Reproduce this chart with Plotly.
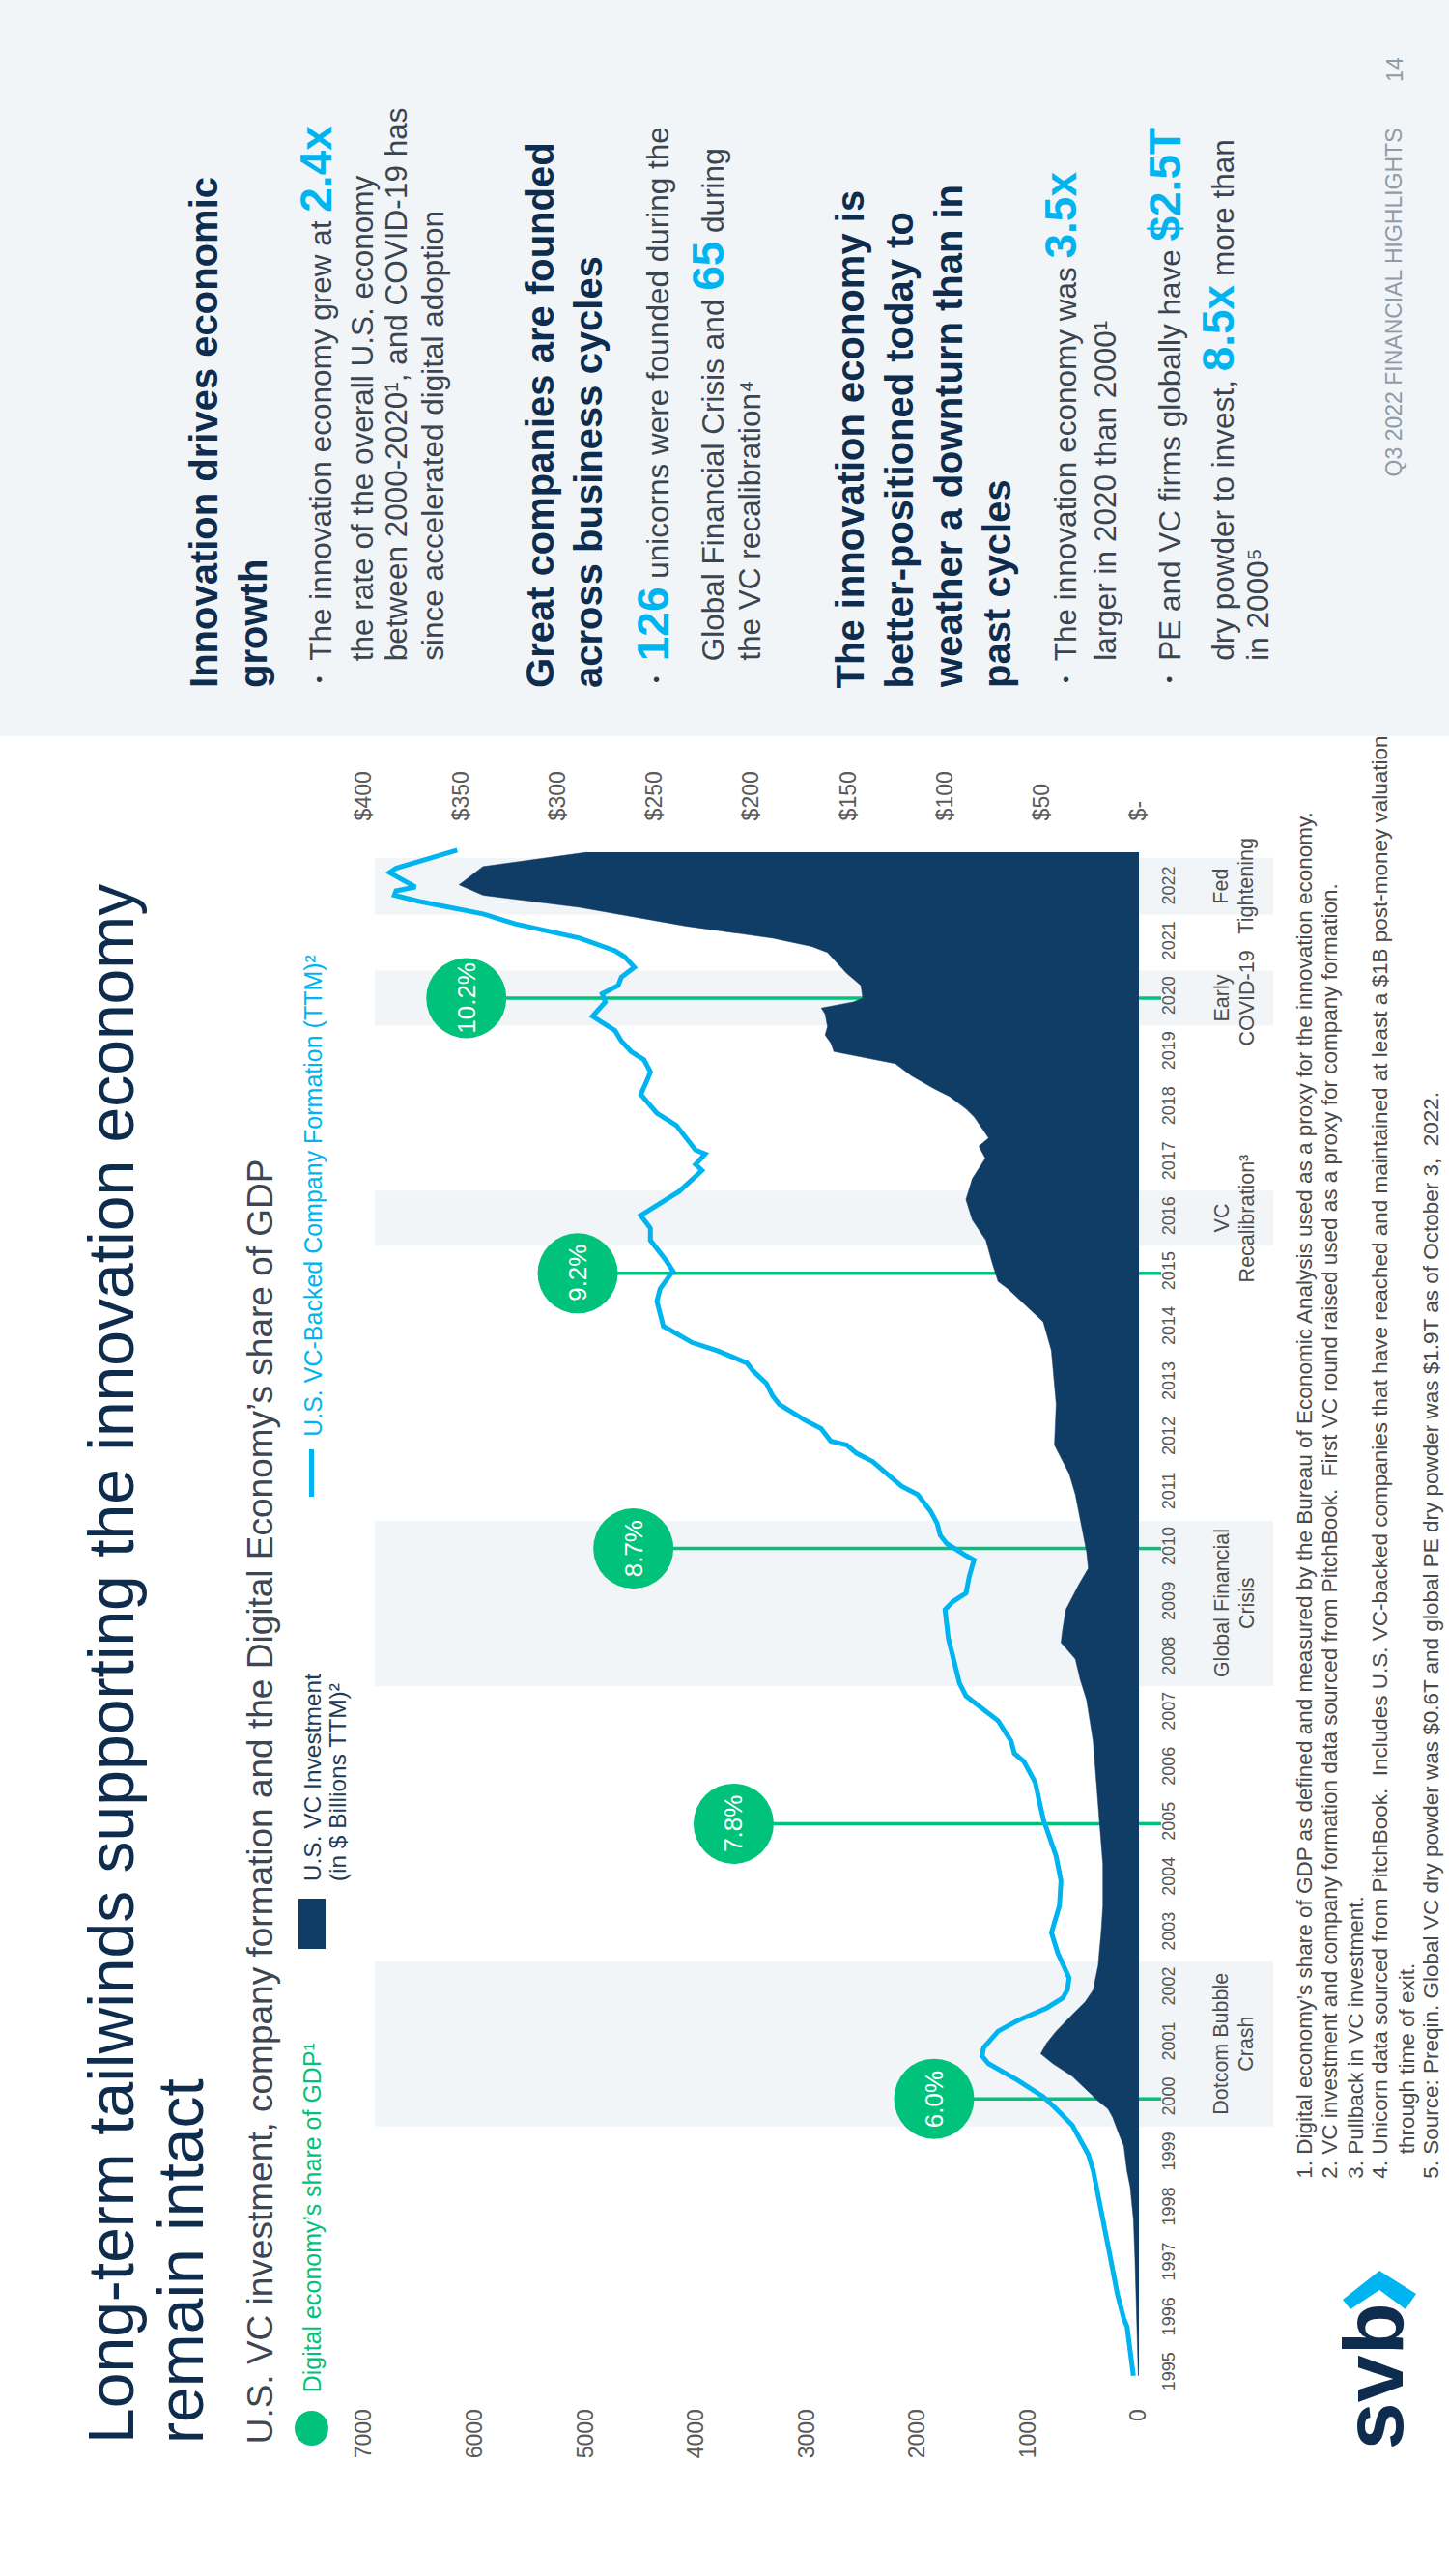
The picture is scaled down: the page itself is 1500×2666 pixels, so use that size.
import plotly.graph_objects as go

FONT = "Liberation Sans, Arial, Helvetica, sans-serif"
NAVY = "#0E2D4E"
AREA = "#103D66"
BLUE = "#00B4F0"
GREEN = "#00C27A"
BAND = "#F2F5F8"
TICK = "#5A5A5A"
BODY = "#3B4550"
SUB = "#3D4651"

# ---------------- data ----------------
vc_time = [1994.97, 1995.57, 1996.31, 1997.06, 1997.80, 1998.40, 1998.70, 1998.92, 1999.15, 1999.29,
           1999.52, 1999.67, 1999.82, 1999.96, 2000.19, 2000.41, 2000.64, 2000.82, 2001.01, 2001.23,
           2001.53, 2001.76, 2001.98, 2002.13, 2002.43, 2002.72, 2003.02, 2003.51, 2004.26, 2005.01,
           2005.75, 2006.50, 2007.25, 2007.62, 2007.99, 2008.29, 2008.52, 2008.89, 2009.34, 2009.64,
           2009.94, 2010.53, 2010.98, 2011.36, 2011.88, 2012.62, 2013.60, 2014.12, 2014.34, 2014.72,
           2014.85, 2015.22, 2015.60, 2015.97, 2016.34, 2016.72, 2017.09, 2017.31, 2017.46, 2017.84,
           2017.99, 2018.21, 2018.36, 2018.59, 2018.81, 2019.03, 2019.18, 2019.33, 2019.48, 2019.71,
           2019.82, 2019.93, 2020.00, 2020.23, 2020.45, 2020.64, 2020.83, 2020.94, 2021.09, 2021.31,
           2021.50, 2021.65, 2021.76, 2021.87, 2022.06, 2022.39, 2022.65]
vc_investment = [0.3, 0.7, 1.2, 2.0, 2.8, 4.5, 6.2, 7.0, 7.8, 9.5,
                 12.0, 13.6, 16.0, 21.0, 27.8, 34.4, 44.4, 50.7, 47.7, 42.7,
                 34.4, 27.8, 23.6, 22.8, 21.0, 20.3, 19.5, 18.6, 18.6, 20.3,
                 22.0, 23.6, 27.0, 30.3, 32.8, 40.2, 39.4, 37.7, 31.1, 26.1,
                 27.0, 30.3, 32.8, 36.0, 43.6, 42.7, 45.2, 49.4, 56.0, 67.7,
                 72.7, 76.0, 79.0, 86.0, 89.3, 86.0, 79.3, 82.6, 77.6, 85.0,
                 89.3, 97.6, 106.0, 117.5, 125.8, 157.5, 159.0, 162.0, 160.8, 162.0,
                 164.0, 147.5, 142.6, 143.5, 150.9, 155.8, 160.8, 169.0, 189.0, 234.0,
                 263.9, 288.8, 313.7, 338.6, 351.0, 338.6, 285.0]

cf_time = [1994.97, 1995.86, 1996.01, 1996.46, 1996.91, 1997.36, 1997.65, 1997.95, 1998.47, 1998.70,
           1998.99, 1999.29, 1999.52, 1999.82, 2000.04, 2000.34, 2000.64, 2000.78, 2000.93, 2001.23,
           2001.42, 2001.65, 2001.83, 2001.98, 2002.20, 2002.65, 2003.02, 2003.51, 2003.96, 2004.41,
           2004.78, 2005.08, 2005.75, 2006.13, 2006.28, 2006.50, 2006.87, 2007.10, 2007.32, 2007.55,
           2007.99, 2008.37, 2008.89, 2009.04, 2009.19, 2009.49, 2009.79, 2009.87, 2010.09, 2010.24,
           2010.46, 2010.68, 2010.98, 2011.13, 2011.43, 2011.58, 2011.73, 2011.88, 2011.95, 2012.18,
           2012.33, 2012.62, 2012.77, 2013.00, 2013.22, 2013.37, 2013.59, 2013.74, 2014.04, 2014.49,
           2014.72, 2015.04, 2015.22, 2015.60, 2015.82, 2016.05, 2016.49, 2016.87, 2016.98, 2017.17,
           2017.24, 2017.46, 2017.69, 2017.91, 2018.25, 2018.51, 2018.66, 2018.88, 2019.03, 2019.22,
           2019.41, 2019.67, 2019.93, 2020.08, 2020.23, 2020.38, 2020.56, 2020.75, 2020.86, 2021.09,
           2021.35, 2021.53, 2021.76, 2021.87, 2021.95, 2022.02, 2022.28, 2022.36, 2022.69]
company_formation = [50, 107, 137, 195, 238, 282, 311, 340, 384, 413,
                     457, 544, 602, 748, 864, 1097, 1359, 1417, 1403, 1272,
                     1097, 835, 690, 646, 631, 733, 790, 718, 704, 748,
                     806, 864, 937, 1039, 1126, 1155, 1272, 1417, 1562, 1621,
                     1679, 1722, 1752, 1679, 1562, 1533, 1490, 1562, 1737, 1795,
                     1824, 1883, 1999, 2144, 2319, 2406, 2551, 2639, 2784, 2872,
                     3017, 3250, 3308, 3366, 3483, 3541, 3803, 4035, 4297, 4355,
                     4326, 4210, 4268, 4414, 4414, 4501, 4152, 3948, 4006, 3919,
                     4006, 4094, 4181, 4355, 4501, 4443, 4414, 4472, 4588, 4676,
                     4733, 4937, 4821, 4850, 4705, 4676, 4559, 4646, 4733, 5054,
                     5636, 5926, 6508, 6727, 6712, 6537, 6770, 6712, 6159]

milestone_years = [2000, 2005, 2010, 2015, 2020]
digital_share = [6.0, 7.8, 8.7, 9.2, 10.2]
digital_share_labels = ["6.0%", "7.8%", "8.7%", "9.2%", "10.2%"]

event_start = [1999.5, 2007.5, 2015.5, 2019.5, 2021.52]
event_end = [2002.5, 2010.5, 2016.5, 2020.5, 2022.55]
event_line1 = ["Dotcom Bubble", "Global Financial", "VC", "Early", "Fed"]
event_line2 = ["Crash", "Crisis", "Recalibration\u00b3", "COVID-19", "Tightening"]

year_ticks = list(range(1995, 2023))
cf_ticks = [0, 1000, 2000, 3000, 4000, 5000, 6000, 7000]
vc_ticks = [0, 50, 100, 150, 200, 250, 300, 350, 400]
vc_ticktext = ["$-", "$50", "$100", "$150", "$200", "$250", "$300", "$350", "$400"]

# ---------------- geometry ----------------
FW, FH = 1500, 2666
ML, MR, MT, MB = 377, 321, 862, 203
PW = FW - ML - MR
PH = FH - MT - MB
BOT = FH - MB
PX_PER_YEAR = 56.96
t0 = 1995 - (BOT - 2457) / PX_PER_YEAR
t1 = t0 + PH / PX_PER_YEAR
SHARE_RANGE = [11.117, 4.161]


def px_x(px):
    return (px - ML) / PW


def px_y(py):
    return (BOT - py) / PH


def vt(text, base, start, size, color, bold=False, maxsize=None):
    ms = maxsize if maxsize else size
    return dict(text=text, xref="paper", yref="paper",
                x=px_x(base + 0.212 * ms + 2), y=px_y(start + 2),
                xanchor="right", yanchor="bottom", textangle=-90, showarrow=False,
                font=dict(family=FONT, size=size, color=color,
                          weight="bold" if bold else "normal"))


def big(s):
    return "<span style='color:%s;font-size:46px;font-weight:bold'>%s</span>" % (BLUE, s)


fig = go.Figure()

# bubbles (digital economy share)
fig.add_trace(go.Scatter(
    x=digital_share, y=milestone_years, mode="markers", xaxis="x", yaxis="y",
    marker=dict(size=83, color=GREEN, line=dict(width=0)), cliponaxis=False,
    hoverinfo="skip", showlegend=False))

# VC investment area
fig.add_trace(go.Scatter(
    x=vc_investment, y=vc_time, mode="lines", xaxis="x2", yaxis="y",
    fill="tozerox", fillcolor=AREA, line=dict(color=AREA, width=0.5),
    hoverinfo="skip", showlegend=False))

# company formation line
fig.add_trace(go.Scatter(
    x=company_formation, y=cf_time, mode="lines", xaxis="x3", yaxis="y",
    line=dict(color=BLUE, width=5), hoverinfo="skip", showlegend=False))

shapes = []
# right-hand gray panel
shapes.append(dict(type="rect", xref="paper", yref="paper", x0=px_x(0), x1=px_x(FW),
                   y0=px_y(762), y1=px_y(0), fillcolor=BAND, line=dict(width=0), layer="below"))
# event bands
for s, e in zip(event_start, event_end):
    shapes.append(dict(type="rect", xref="paper", yref="y", x0=px_x(388), x1=px_x(1318),
                       y0=s, y1=e, fillcolor=BAND, line=dict(width=0), layer="below"))
# green connector lines
for p, yr in zip(digital_share, milestone_years):
    shapes.append(dict(type="line", xref="x", yref="y", x0=p, x1=SHARE_RANGE[1], y0=yr, y1=yr,
                       line=dict(color=GREEN, width=3.5), layer="below"))
    shapes.append(dict(type="line", xref="paper", yref="y", x0=1.0, x1=px_x(1202), y0=yr, y1=yr,
                       line=dict(color=GREEN, width=3.5), layer="below"))
# legend marks
shapes.append(dict(type="circle", xref="paper", yref="paper", x0=px_x(305), x1=px_x(340),
                   y0=px_y(2531), y1=px_y(2495), fillcolor=GREEN, line=dict(width=0)))
shapes.append(dict(type="rect", xref="paper", yref="paper", x0=px_x(309), x1=px_x(337),
                   y0=px_y(2017), y1=px_y(1965), fillcolor=AREA, line=dict(width=0)))
shapes.append(dict(type="line", xref="paper", yref="paper", x0=px_x(322.5), x1=px_x(322.5),
                   y0=px_y(1549), y1=px_y(1500), line=dict(color=BLUE, width=5)))
# logo chevron
chev = [(1390, 2380), (1428, 2350), (1466, 2374), (1455, 2390), (1428, 2370), (1398, 2390)]
path = "M " + " L ".join("%.5f,%.5f" % (px_x(a), px_y(b)) for a, b in chev) + " Z"
shapes.append(dict(type="path", xref="paper", yref="paper", path=path, fillcolor=BLUE,
                   line=dict(width=0)))

ann = []
# title, subtitle, legend
ann.append(vt("Long-term tailwinds supporting the innovation economy", 138, 2529, 66, NAVY))
ann.append(vt("remain intact", 210, 2529, 66, NAVY))
ann.append(vt("U.S. VC investment, company formation and the Digital Economy\u2019s share of GDP", 282, 2529, 37, SUB))
ann.append(vt("Digital economy\u2019s share of GDP\u00b9", 332, 2476, 25, GREEN))
ann.append(vt("U.S. VC Investment", 332, 1947, 24.5, "#1F3B5A"))
ann.append(vt("(in $ Billions TTM)\u00b2", 358, 1947, 24.5, "#1F3B5A"))
ann.append(vt("U.S. VC-Backed Company Formation (TTM)\u00b2", 332, 1487, 25, BLUE))

# bubble labels
for p, yr, lab in zip(digital_share, milestone_years, digital_share_labels):
    ann.append(dict(text=lab, xref="x", yref="y", x=p, y=yr, xanchor="center", yanchor="middle",
                    textangle=-90, showarrow=False, font=dict(family=FONT, size=26, color="white")))

# event labels
for s, e, l1, l2 in zip(event_start, event_end, event_line1, event_line2):
    yc = (s + e) / 2
    for txt, base in ((l1, 1272), (l2, 1298)):
        ann.append(dict(text=txt, xref="paper", yref="y", x=px_x(base + 0.212 * 21.5 + 2), y=yc,
                        xanchor="right", yanchor="middle", textangle=-90, showarrow=False,
                        font=dict(family=FONT, size=21.5, color="#4D4D4D")))

# footnotes
FN = "#4A4A4A"
fns = [
    ("1. Digital economy\u2019s share of GDP as defined and measured by the Bureau of Economic Analysis used as a proxy for the innovation economy.", 1358, 2255),
    ("2. VC investment and company formation data sourced from PitchBook.\u00a0 First VC round raised used as a proxy for company formation.", 1384, 2255),
    ("3. Pullback in VC investment.", 1411, 2255),
    ("4. Unicorn data sourced from PitchBook.\u00a0 Includes U.S. VC-backed companies that have reached and maintained at least a $1B post-money valuation", 1436, 2255),
    ("through time of exit.", 1464, 2229),
    ("5. Source: Preqin. Global VC dry powder was $0.6T and global PE dry powder was $1.9T as of October 3,\u00a0 2022.", 1489, 2255),
]
for txt, base, start in fns:
    ann.append(vt(txt, base, start, 22.5, FN))

# logo text
ann.append(vt("svb", 1452, 2535, 88, NAVY, bold=True))

# right panel
ann.append(vt("Innovation drives economic", 224, 712, 40, NAVY, bold=True))
ann.append(vt("growth", 275, 712, 40, NAVY, bold=True))
ann.append(vt("The innovation economy grew at " + big("2.4x"), 343, 684, 31.5, BODY, maxsize=46))
ann.append(vt("the rate of the overall U.S. economy", 387, 684, 31.5, BODY))
ann.append(vt("between 2000-2020\u00b9, and COVID-19 has", 422, 684, 31.5, BODY))
ann.append(vt("since accelerated digital adoption", 459, 684, 31.5, BODY))

ann.append(vt("Great companies are founded", 572, 712, 40, NAVY, bold=True))
ann.append(vt("across business cycles", 622, 712, 40, NAVY, bold=True))
ann.append(vt(big("126") + " unicorns were founded during the", 693, 684, 31.5, BODY, maxsize=46))
ann.append(vt("Global Financial Crisis and " + big("65") + " during", 750, 684, 31.5, BODY, maxsize=46))
ann.append(vt("the VC recalibration\u2074", 787, 684, 31.5, BODY))

ann.append(vt("The innovation economy is", 894, 712, 40, NAVY, bold=True))
ann.append(vt("better-positioned today to", 944.5, 712, 40, NAVY, bold=True))
ann.append(vt("weather a downturn than in", 995, 712, 40, NAVY, bold=True))
ann.append(vt("past cycles", 1045.5, 712, 40, NAVY, bold=True))
ann.append(vt("The innovation economy was " + big("3.5x"), 1115, 684, 31.5, BODY, maxsize=46))
ann.append(vt("larger in 2020 than 2000\u00b9", 1155, 684, 31.5, BODY))
ann.append(vt("PE and VC firms globally have " + big("$2.5T"), 1222, 684, 31.5, BODY, maxsize=46))
ann.append(vt("dry powder to invest, " + big("8.5x") + " more than", 1277, 684, 31.5, BODY, maxsize=46))
ann.append(vt("in 2000\u2075", 1313, 684, 31.5, BODY))

for bx in (330, 679, 1103, 1210):
    ann.append(dict(text="\u2022", xref="paper", yref="paper", x=px_x(bx), y=px_y(703),
                    xanchor="center", yanchor="middle", showarrow=False,
                    font=dict(family=FONT, size=20, color="#2E3A46")))

ann.append(vt("Q3 2022 FINANCIAL HIGHLIGHTS", 1452, 493, 23, "#8E9BA8"))
ann.append(vt("14", 1452, 85, 23, "#8E9BA8"))

fig.update_layout(
    width=FW, height=FH, autosize=False,
    margin=dict(l=ML, r=MR, t=MT, b=MB, pad=0),
    paper_bgcolor="white", plot_bgcolor="rgba(0,0,0,0)",
    showlegend=False, hovermode=False,
    font=dict(family=FONT, color=TICK),
    xaxis=dict(range=SHARE_RANGE, visible=False, domain=[0, 1], fixedrange=True),
    xaxis2=dict(overlaying="x", side="top", anchor="y", range=[400, 0],
                tickvals=vc_ticks, ticktext=vc_ticktext, tickangle=-90,
                ticks="outside", ticklen=7, tickcolor="rgba(0,0,0,0)",
                tickfont=dict(family=FONT, size=23, color=TICK),
                showgrid=False, zeroline=False, showline=False),
    xaxis3=dict(overlaying="x", side="bottom", anchor="y", range=[7000, 0],
                tickvals=cf_ticks, ticktext=[str(v) for v in cf_ticks], tickangle=-90,
                ticks="outside", ticklen=20, tickcolor="rgba(0,0,0,0)",
                tickfont=dict(family=FONT, size=23, color=TICK),
                showgrid=False, zeroline=False, showline=False),
    yaxis=dict(range=[t0, t1], side="right", anchor="x",
               tickvals=year_ticks, ticktext=[str(y) for y in year_ticks], tickangle=-90,
               ticks="outside", ticklen=14, tickcolor="rgba(0,0,0,0)",
               tickfont=dict(family=FONT, size=18, color="#555555"),
               showgrid=False, zeroline=False, showline=False),
    shapes=shapes,
    annotations=ann,
)

fig.write_html("out.html")
